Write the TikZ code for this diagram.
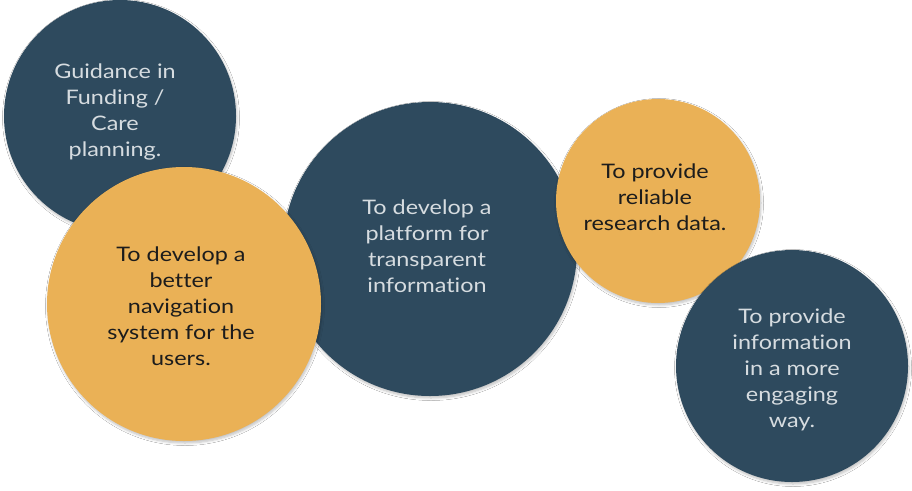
\documentclass[tikz,border=0pt]{standalone}
\usepackage{fontspec}
\setmainfont{Lato}[Ligatures=NoCommon, FakeStretch=1.17]
\usetikzlibrary{shadows.blur}
\definecolor{navy}{HTML}{2E4A5E}
\definecolor{mustard}{HTML}{EAB156}
\definecolor{paletext}{HTML}{D6DCE0}
\definecolor{inktext}{HTML}{1C1C1C}
\tikzset{
  bubble/.style={circle, inner sep=0pt, outer sep=0pt, draw=none,
    blur shadow={shadow xshift=1pt, shadow yshift=-2pt, shadow blur steps=6, shadow opacity=25, shadow blur radius=2.5pt}},
  darkbubble/.style={bubble, fill=navy},
  goldbubble/.style={bubble, fill=mustard},
  caption/.style={align=center, inner sep=0pt, font=\fontsize{20}{26}\selectfont},
  lighttext/.style={caption, text=paletext},
  darktext/.style={caption, text=inktext}
}
\begin{document}
\begin{tikzpicture}[x=1pt,y=-1pt]
  \useasboundingbox[fill=white] (0,0) rectangle (912,490);
  % circles, back to front
  \node[darkbubble, minimum size=232pt] (c1) at (120,116) {};
  \node[darkbubble, minimum size=294pt] (c3) at (430,249) {};
  \node[goldbubble, minimum size=274pt] (c2) at (184,304) {};
  \node[goldbubble, minimum size=204pt] (c4) at (658,201) {};
  \node[darkbubble, minimum size=232pt] (c5) at (792,366) {};
  % captions
  \node[lighttext] (t1) at (115,112) {Guidance in\\Funding /\\Care\\planning.};
  \node[darktext] (t2) at (181,306) {To develop a\\better\\navigation\\system for the\\users.};
  \node[lighttext] (t3) at (427,246) {To develop a\\platform for\\transparent\\information};
  \node[darktext] (t4) at (655,197) {To provide\\reliable\\research data.};
  \node[lighttext] (t5) at (792,370) {To provide\\information\\in a more\\engaging\\way.};
\end{tikzpicture}
\end{document}
